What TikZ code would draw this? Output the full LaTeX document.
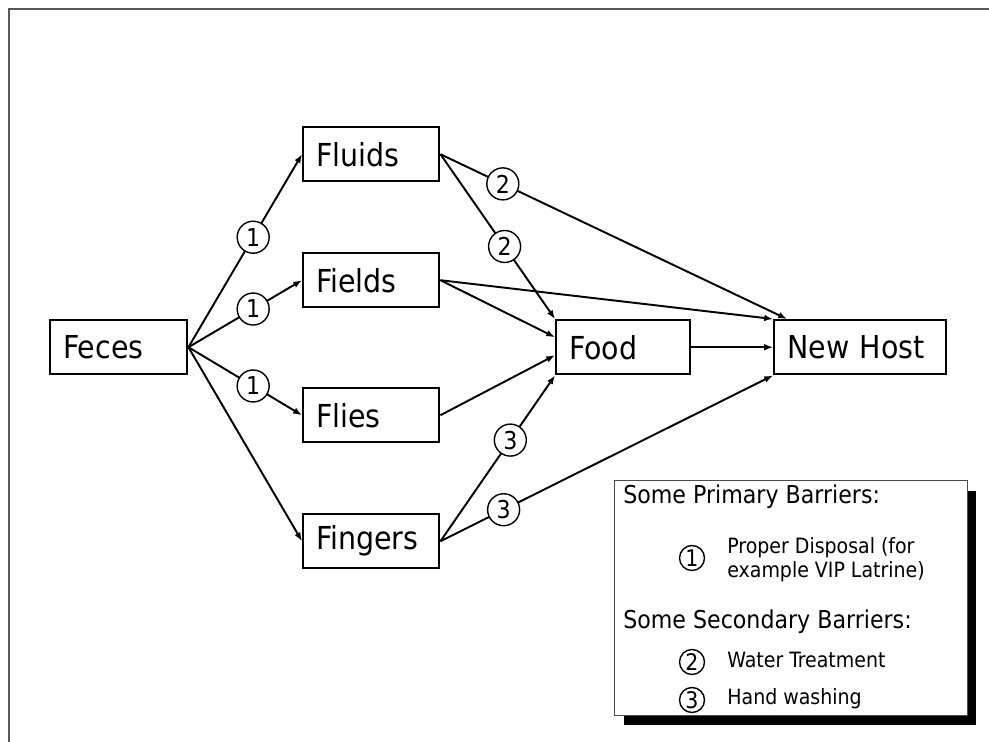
\documentclass[tikz,border=0pt]{standalone}
\usepackage{fontspec}
\setmainfont{DejaVu Sans Condensed}
\usetikzlibrary{arrows.meta,calc,shadows}

\begin{document}
\begin{tikzpicture}[x=0.02cm, y=-0.02cm,
                    stg/.style={draw, line width=1.4pt, anchor=north west, minimum height=1.08cm,
                                inner xsep=0.26cm, inner ysep=0pt, text width=2.2cm, align=left,
                                font=\fontsize{18}{20}\selectfont},
                    flow/.style={line width=1.1pt, -{Latex[length=5pt,width=3.8pt]}},
                    bar/.style={draw, circle, fill=white, line width=0.8pt, minimum size=0.64cm,
                                inner sep=0pt, font=\fontsize{14}{14}\selectfont},
                    lbar/.style={bar, minimum size=0.5cm, font=\fontsize{13}{13}\selectfont},
                    lhead/.style={anchor=base west, inner sep=0pt, font=\fontsize{14}{16}\selectfont},
                    litem/.style={anchor=west, inner sep=0pt, align=left, font=\fontsize{12}{13.6}\selectfont}]
  \useasboundingbox (0,0) rectangle (989,742);
  \draw[gray!70!black, line width=1.3pt] (9,742) -- (9,9) -- (989,9);
  % stages
  \node[stg, text width=2.22cm] (feces) at (49,319) {Feces};
  \node[stg] (fluids)  at (302,126) {Fluids};
  \node[stg] (fields)  at (302,252) {Fields};
  \node[stg] (flies)   at (302,387) {Flies};
  \node[stg] (fingers) at (302,513) {Fingers};
  \node[stg, text width=2.16cm] (food) at (555,319) {Food};
  \node[stg, text width=2.92cm] (host) at (773,319) {New Host};
  % routes
  \draw[flow] (feces.east) -- node[bar, pos=0.57] (b1a) {1} (fluids.west);
  \draw[flow] (feces.east) -- node[bar, pos=0.57] (b1b) {1} (fields.west);
  \draw[flow] (feces.east) -- node[bar, pos=0.57] (b1c) {1} (flies.west);
  \draw[flow] (feces.east) -- (fingers.west);
  \draw[flow] (fluids.east) -- node[bar, pos=0.18] (b2a) {2} ($(host.north west)+(14,0)$);
  \draw[flow] (fluids.east) -- node[bar, pos=0.56] (b2b) {2} (food.north west);
  \draw[flow] (fields.east) -- (host.north west);
  \draw[flow] (fields.east) -- ($(food.west)+(0,-10)$);
  \draw[flow] (flies.east) -- ($(food.west)+(0,8)$);
  \draw[flow] (fingers.east) -- node[bar, pos=0.61] (b3a) {3} (food.south west);
  \draw[flow] (fingers.east) -- node[bar, pos=0.19] (b3b) {3} (host.south west);
  \draw[flow] (food.east) -- (host.west);
  % legend
  \node[draw=gray!60!black, fill=white, line width=0.6pt, anchor=north west,
        minimum width=7.06cm, minimum height=4.7cm, inner sep=0pt,
        drop shadow={opacity=1, fill=black, shadow xshift=0.18cm, shadow yshift=-0.2cm}] (legend) at (614,480) {};
  \node[lhead] (prim) at (623,503) {Some Primary Barriers:};
  \node[lbar] (l1) at (692,558) {1};
  \node[litem] (t1) at (727,560) {Proper Disposal (for\\example VIP Latrine)};
  \node[lhead] (sec) at (623,628) {Some Secondary Barriers:};
  \node[lbar] (l2) at (692,662) {2};
  \node[litem] (t2) at (727,660) {Water Treatment};
  \node[lbar] (l3) at (692,700) {3};
  \node[litem] (t3) at (727,699) {Hand washing};
\end{tikzpicture}
\end{document}
